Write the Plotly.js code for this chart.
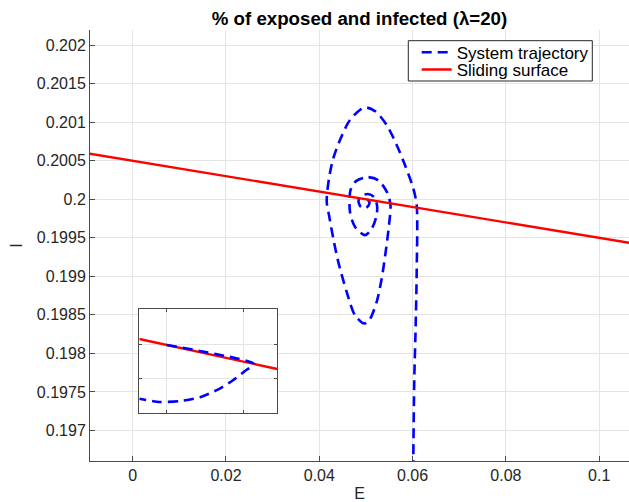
<!DOCTYPE html>
<html>
<head>
<meta charset="utf-8">
<script src="https://cdn.plot.ly/plotly-3.0.1.min.js"></script>
<style>html,body{margin:0;padding:0;background:#fff;}#chart{width:629px;height:502px;}</style>
</head>
<body>
<div id="chart"></div>
<script>
// ---- data ----
const trajE = [0.06013, 0.06036, 0.06062, 0.06088, 0.06088, 0.06015, 0.05837, 0.05659, 0.05445, 0.05194, 0.04965,
  0.04658, 0.04444, 0.04300, 0.04208, 0.04159, 0.04208, 0.04300, 0.04407, 0.04587, 0.04765, 0.04965,
  0.05072, 0.05230, 0.05338, 0.05423, 0.05494, 0.05526, 0.05451, 0.05258, 0.05022, 0.04787, 0.04669,
  0.04658, 0.04765, 0.04980, 0.05130, 0.05230, 0.05237, 0.05173, 0.05044, 0.04894, 0.04840, 0.04894,
  0.05001, 0.05076, 0.05033, 0.05001];
const trajI = [0.196483, 0.197652, 0.198258, 0.199058, 0.199925, 0.200142, 0.200444, 0.200704, 0.200964, 0.201145, 0.201191,
  0.201029, 0.200769, 0.200531, 0.200271, 0.199968, 0.199795, 0.199492, 0.199188, 0.198799, 0.198496, 0.198388,
  0.198431, 0.198669, 0.198973, 0.199318, 0.199665, 0.199925, 0.200094, 0.200249, 0.200288, 0.200236, 0.200119,
  0.199838, 0.199643, 0.199535, 0.199626, 0.199795, 0.199925, 0.200029, 0.200068, 0.200042, 0.199977, 0.199899,
  0.199886, 0.199951, 0.199996, 0.200000];
const surfE = [-0.0092, 0.1070];
const surfI = [0.200592, 0.199430];

const insetSurfE = [0.060321, 0.061222];
const insetSurfI = [0.1998968, 0.1998878];
const insetTrajE = [0.0605, 0.06107, 0.061011, 0.060935, 0.060837, 0.060717, 0.060587, 0.060456, 0.060321];
const insetTrajI = [0.199895, 0.1998893, 0.1998872, 0.1998845, 0.1998817, 0.1998793, 0.1998782, 0.1998779, 0.1998789];

const xTickVals = [0, 0.02, 0.04, 0.06, 0.08, 0.1];
const xTickText = ['0', '0.02', '0.04', '0.06', '0.08', '0.1'];
const yTickVals = [0.197, 0.1975, 0.198, 0.1985, 0.199, 0.1995, 0.2, 0.2005, 0.201, 0.2015, 0.202];
const yTickText = ['0.197', '0.1975', '0.198', '0.1985', '0.199', '0.1995', '0.2', '0.2005', '0.201', '0.2015', '0.202'];
const insetXTicks = [0.0605, 0.061];
const insetYTicks = [0.199885, 0.199895];

const titleText = '% of exposed and infected (λ=20)';
const seriesNames = ['System trajectory', 'Sliding surface'];

// ---- styles ----
const FONT = 'Liberation Sans, Arial, Helvetica, sans-serif';
const BLUE = '#0000ff', RED = '#ff0000';
const AXC = '#4a4a4a', GRID = '#e4e4e4', TXT = '#262626';

const traces = [
  {x: trajE, y: trajI, type: 'scatter', mode: 'lines', name: seriesNames[0],
   line: {color: BLUE, width: 2.6, dash: '10px,6px', shape: 'spline', smoothing: 0.8},
   xaxis: 'x', yaxis: 'y', legend: 'legend'},
  {x: surfE, y: surfI, type: 'scatter', mode: 'lines', name: seriesNames[1],
   line: {color: RED, width: 2.4}, xaxis: 'x', yaxis: 'y', legend: 'legend2'},
  {x: insetSurfE, y: insetSurfI, type: 'scatter', mode: 'lines', showlegend: false,
   line: {color: RED, width: 2.4}, xaxis: 'x2', yaxis: 'y2'},
  {x: insetTrajE, y: insetTrajI, type: 'scatter', mode: 'lines', showlegend: false,
   line: {color: BLUE, width: 2.6, dash: '10px,6px', shape: 'spline', smoothing: 0.6},
   xaxis: 'x2', yaxis: 'y2'}
];

const legendCommon = {xanchor: 'left', yanchor: 'top', bgcolor: 'rgba(0,0,0,0)', borderwidth: 0,
                      font: {family: FONT, size: 17, color: '#000'}};

const layout = {
  width: 629, height: 502,
  margin: {l: 90, r: 0, t: 30, b: 41, pad: 0},
  paper_bgcolor: '#fff', plot_bgcolor: '#fff',
  font: {family: FONT, size: 16, color: TXT},
  title: {text: titleText, font: {family: FONT, size: 18.7, weight: 'bold', color: '#000'},
          xref: 'paper', x: 0.5, xanchor: 'center', yref: 'container', y: 0.964, yanchor: 'middle'},
  showlegend: true,
  legend: Object.assign({x: 0.60612, y: 0.98900}, legendCommon),
  legend2: Object.assign({x: 0.60612, y: 0.94900}, legendCommon),
  xaxis: {range: [-0.00915, 0.10639], tickvals: xTickVals, ticktext: xTickText,
          showgrid: true, gridcolor: GRID, gridwidth: 1, zeroline: false,
          showline: true, linecolor: AXC, linewidth: 1, ticks: 'inside', ticklen: 5, tickcolor: AXC,
          tickfont: {family: FONT, size: 16, color: TXT}, automargin: false,
          title: {text: 'E', font: {family: FONT, size: 16, color: TXT}, standoff: 6}},
  yaxis: {range: [0.196604, 0.202197], tickvals: yTickVals, ticktext: yTickText,
          showgrid: true, gridcolor: GRID, gridwidth: 1, zeroline: false,
          showline: true, linecolor: AXC, linewidth: 1, ticks: 'inside', ticklen: 5, tickcolor: AXC,
          tickfont: {family: FONT, size: 16, color: TXT}, automargin: false,
          title: {text: 'I', font: {family: FONT, size: 16, color: TXT}, standoff: 10}},
  xaxis2: {domain: [0.0915, 0.3475], anchor: 'y2', range: [0.060321, 0.061222],
           tickvals: insetXTicks, showticklabels: false, showgrid: true, gridcolor: GRID, zeroline: false,
           showline: true, mirror: 'ticks', linecolor: AXC, linewidth: 1, ticks: 'inside', ticklen: 3, tickcolor: AXC},
  yaxis2: {domain: [0.1121, 0.352], anchor: 'x2', range: [0.1998747, 0.1999057],
           tickvals: insetYTicks, showticklabels: false, showgrid: true, gridcolor: GRID, zeroline: false,
           showline: true, mirror: 'ticks', linecolor: AXC, linewidth: 1, ticks: 'inside', ticklen: 3, tickcolor: AXC},
  shapes: [
    {type: 'rect', xref: 'x2', yref: 'y2', x0: 0.060321, x1: 0.061222, y0: 0.1998747, y1: 0.1999057,
     fillcolor: '#fff', line: {width: 0}, layer: 'below'},
    {type: 'rect', xref: 'paper', yref: 'paper', x0: 0.59054, x1: 0.93191, y0: 0.88167, y1: 0.97517,
     fillcolor: '#fff', line: {color: '#262626', width: 1}, layer: 'above'}
  ]
};

Plotly.newPlot('chart', traces, layout, {displayModeBar: false, staticPlot: true});
</script>
</body>
</html>
